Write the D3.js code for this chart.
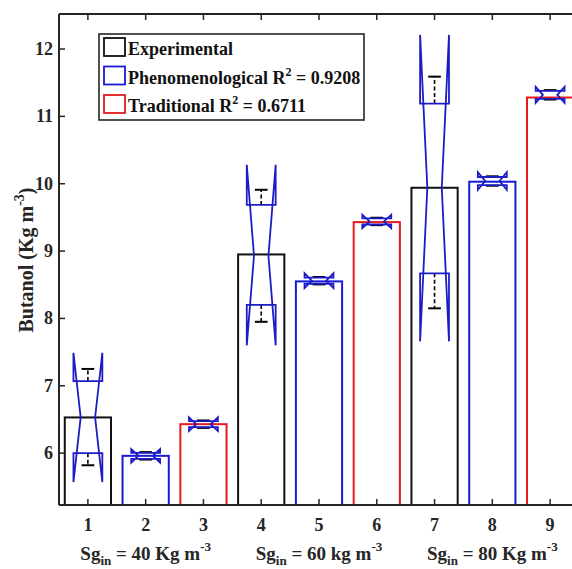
<!DOCTYPE html>
<html><head><meta charset="utf-8">
<script src="https://cdn.jsdelivr.net/npm/d3@7"></script>
<style>html,body{margin:0;padding:0;background:#fff;overflow:hidden}</style>
</head><body><svg id="chart" width="572" height="569"></svg>
<script>
// ---- data ----
const categories = ["1","2","3","4","5","6","7","8","9"];
const positions = [1,2,3,4,5,6,7,8,9];
const seriesNames = ["Experimental","Phenomenological","Traditional"];
const barSeries = [0,1,2,0,1,2,0,1,2];
const barValues = [6.53, 5.96, 6.43, 8.95, 8.55, 9.43, 9.94, 10.03, 11.28];
const boxMedian   = [6.53, 5.96, 6.43, 8.93, 8.56, 9.44, 9.94, 10.04, 11.32];
const boxQ1       = [6.00, 5.915, 6.385, 8.20, 8.515, 9.395, 8.67, 9.98, 11.26];
const boxQ3       = [7.07, 6.005, 6.475, 9.685, 8.605, 9.485, 11.19, 10.10, 11.38];
const boxNotchLo  = [5.57, 5.86, 6.33, 7.60, 8.45, 9.34, 7.66, 9.91, 11.20];
const boxNotchHi  = [7.49, 6.06, 6.53, 10.28, 8.67, 9.54, 12.21, 10.17, 11.44];
const whiskerLo   = [5.82, 5.905, 6.375, 7.95, 8.505, 9.385, 8.15, 9.97, 11.25];
const whiskerHi   = [7.25, 6.015, 6.485, 9.91, 8.615, 9.495, 11.59, 10.11, 11.39];
const yTicks = [6,7,8,9,10,11,12];
const groupLabels = [
  {pos:2, pre:"= 40 Kg m"},
  {pos:5, pre:"= 60 kg m"},
  {pos:8, pre:"= 80 Kg m"}
];
const legendLabels = [
  {name:"Experimental", r2:null},
  {name:"Phenomenological R", r2:" = 0.9208"},
  {name:"Traditional R", r2:" = 0.6711"}
];
const seriesColors = ["#111111","#1a1ad6","#e41a1c"];
const boxColor = "#1c1cc4";

// ---- layout ----
const svg = d3.select("#chart");
const mLeft = 59, mTop = 14, mBottom = 505, mRight = 579;
const x = d3.scaleLinear().domain([0.5, 9.5]).range([mLeft, mRight]);
const y = d3.scaleLinear().domain([5.23, 12.52]).range([mBottom, mTop]);
const font = "'Liberation Serif','Times New Roman',serif";
const axisColor = "#262626";

// bars
const barW = 0.8;
svg.append("g").selectAll("rect").data(barValues).join("rect")
  .attr("x", (d,i)=>x(positions[i]-barW/2))
  .attr("y", d=>y(d))
  .attr("width", x(1+barW)-x(1))
  .attr("height", d=>y(5.23)-y(d))
  .attr("fill","#fff")
  .attr("stroke",(d,i)=>seriesColors[barSeries[i]])
  .attr("stroke-width",2);

// notched boxplots
const bw = 0.25, capW = 0.11;
const bg = svg.append("g");
positions.forEach((c,i)=>{
  const pts = [
    [c-bw, boxQ3[i]],[c-bw, boxNotchHi[i]],[c-bw/2, boxMedian[i]],[c-bw, boxNotchLo[i]],[c-bw, boxQ1[i]],
    [c+bw, boxQ1[i]],[c+bw, boxNotchLo[i]],[c+bw/2, boxMedian[i]],[c+bw, boxNotchHi[i]],[c+bw, boxQ3[i]]
  ];
  const line = d3.line().x(p=>x(p[0])).y(p=>y(p[1]));
  bg.append("line").attr("x1",x(c)).attr("x2",x(c)).attr("y1",y(boxQ3[i])).attr("y2",y(whiskerHi[i]))
    .attr("stroke","#000").attr("stroke-width",1.6).attr("stroke-dasharray","4,2.5");
  bg.append("line").attr("x1",x(c)).attr("x2",x(c)).attr("y1",y(boxQ1[i])).attr("y2",y(whiskerLo[i]))
    .attr("stroke","#000").attr("stroke-width",1.6).attr("stroke-dasharray","4,2.5");
  bg.append("line").attr("x1",x(c-capW)).attr("x2",x(c+capW)).attr("y1",y(whiskerHi[i])).attr("y2",y(whiskerHi[i]))
    .attr("stroke","#000").attr("stroke-width",2);
  bg.append("line").attr("x1",x(c-capW)).attr("x2",x(c+capW)).attr("y1",y(whiskerLo[i])).attr("y2",y(whiskerLo[i]))
    .attr("stroke","#000").attr("stroke-width",2);
  bg.append("path").attr("d", line(pts)+"Z").attr("fill","none")
    .attr("stroke",boxColor).attr("stroke-width",1.8).attr("stroke-linejoin","miter");
});

// axes frame
const ax = svg.append("g").attr("stroke",axisColor).attr("stroke-width",2).attr("fill","none");
ax.append("line").attr("x1",mLeft).attr("x2",mLeft).attr("y1",mTop).attr("y2",mBottom);
ax.append("line").attr("x1",mLeft).attr("x2",mRight+5).attr("y1",mTop).attr("y2",mTop);
ax.append("line").attr("x1",mLeft).attr("x2",mRight+5).attr("y1",mBottom).attr("y2",mBottom);
yTicks.forEach(t=>{
  ax.append("line").attr("x1",mLeft).attr("x2",mLeft+6).attr("y1",y(t)).attr("y2",y(t)).attr("stroke-width",1.5);
});
positions.forEach(p=>{
  ax.append("line").attr("x1",x(p)).attr("x2",x(p)).attr("y1",mTop).attr("y2",mTop+6).attr("stroke-width",1.5);
  ax.append("line").attr("x1",x(p)).attr("x2",x(p)).attr("y1",mBottom).attr("y2",mBottom-6).attr("stroke-width",1.5);
});

// tick labels
svg.append("g").selectAll("text").data(yTicks).join("text")
  .attr("x", mLeft-6).attr("y", d=>y(d)+6)
  .attr("text-anchor","end").attr("font-family",font).attr("font-weight","bold").attr("font-size",18)
  .attr("fill","#262626").text(d=>d);
svg.append("g").selectAll("text").data(categories).join("text")
  .attr("x",(d,i)=>x(positions[i])).attr("y",531)
  .attr("text-anchor","middle").attr("font-family",font).attr("font-weight","bold").attr("font-size",18)
  .attr("fill","#262626").text(d=>d);

// group labels
groupLabels.forEach(g=>{
  const t = svg.append("text").attr("x",x(g.pos)).attr("y",560).attr("text-anchor","middle")
    .attr("font-family",font).attr("font-weight","bold").attr("font-size",19).attr("fill","#262626");
  t.append("tspan").text("Sg");
  t.append("tspan").attr("font-size",13).attr("dy",5).text("in");
  t.append("tspan").attr("dy",-5).text(" " + g.pre);
  t.append("tspan").attr("font-size",13).attr("dy",-9).text("-3");
});

// y label
const yl = svg.append("text").attr("transform","translate(33,260) rotate(-90)").attr("text-anchor","middle")
  .attr("font-family",font).attr("font-weight","bold").attr("font-size",20).attr("fill","#262626");
yl.append("tspan").text("Butanol (Kg m");
yl.append("tspan").attr("font-size",14).attr("dy",-9).text("-3");
yl.append("tspan").attr("dy",9).text(")");

// legend
const lg = svg.append("g");
lg.append("rect").attr("x",99).attr("y",34).attr("width",265).attr("height",86)
  .attr("fill","#fff").attr("stroke","#262626").attr("stroke-width",1.6);
legendLabels.forEach((l,i)=>{
  const yy = 38 + i*28.5;
  lg.append("rect").attr("x",104).attr("y",yy).attr("width",21).attr("height",18)
    .attr("fill","#fff").attr("stroke",seriesColors[i]).attr("stroke-width",1.8);
  const t = lg.append("text").attr("x",128).attr("y",yy+17)
    .attr("font-family",font).attr("font-weight","bold").attr("font-size",18).attr("fill","#111");
  t.append("tspan").text(l.name);
  if(l.r2){
    t.append("tspan").attr("font-size",12).attr("dy",-8).text("2");
    t.append("tspan").attr("dy",8).text(l.r2);
  }
});
</script></body></html>
